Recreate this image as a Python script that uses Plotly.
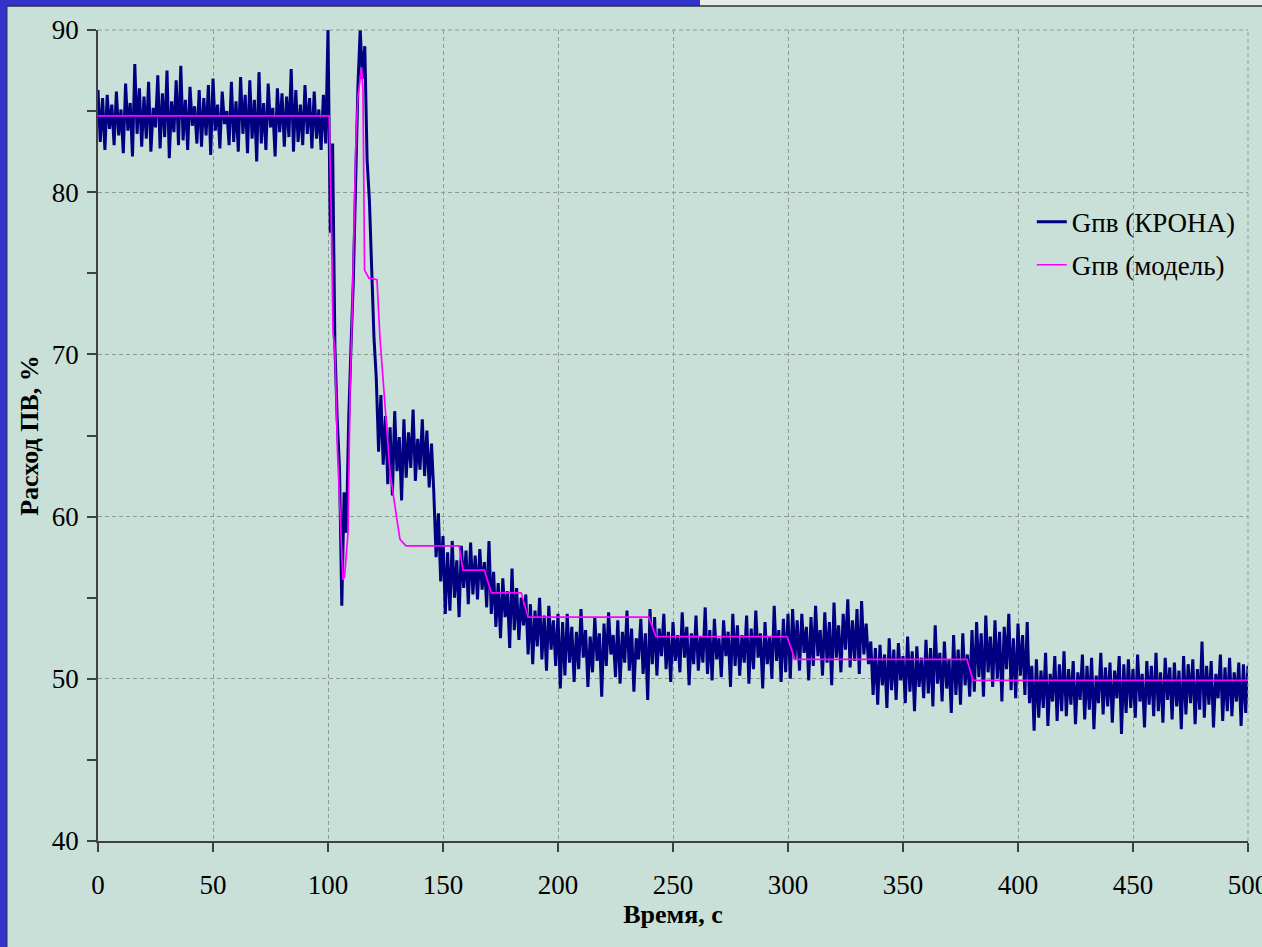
import plotly.graph_objects as go

krona_000_099 = [
    86.3, 83.1, 85.8, 82.6, 86.0, 83.9, 85.4, 82.9, 86.2, 83.5,
    85.1, 82.4, 86.7, 83.8, 85.5, 82.2, 87.9, 83.6, 86.4, 82.8,
    85.9, 83.3, 86.8, 82.5, 85.2, 84.0, 87.2, 82.7, 86.1, 83.4,
    87.5, 82.1, 85.6, 83.7, 86.9, 82.9, 87.8, 83.2, 85.7, 82.6,
    86.5, 84.1, 85.3, 83.0, 86.3, 82.8, 85.8, 83.5, 86.6, 82.3,
    87.0, 83.8, 85.4, 82.7, 86.2, 84.2, 85.0, 82.9, 86.8, 83.1,
    85.6, 82.5, 87.1, 83.6, 86.0, 82.4, 86.9, 83.3, 85.7, 81.9,
    87.4, 83.0, 85.5, 82.6, 86.7, 84.0, 85.2, 82.2, 86.4, 83.7,
    86.1, 82.8, 85.9, 83.4, 87.6, 82.5, 86.3, 83.1, 85.4, 82.9,
    86.6, 83.6, 85.8, 82.7, 86.2, 83.3, 85.1, 82.6, 86.0, 83.0,
]
krona_100_124 = [
    90.0, 77.5, 83.0, 70.5, 66.0, 63.0, 54.5, 61.5, 59.0, 66.0,
    70.5, 74.5, 80.5, 86.5, 90.0, 87.0, 89.0, 82.0, 79.5, 75.5,
    71.0, 68.5, 64.0, 67.5, 63.2,
]
krona_125_150 = [
    66.2, 62.0, 65.5, 61.3, 66.5, 62.8, 64.9, 61.0, 66.0, 62.4,
    65.2, 63.0, 66.6, 62.2, 64.8, 62.9, 66.0, 62.5, 65.3, 61.8,
    64.5, 61.5, 57.5, 60.2, 56.0, 58.8,
]
krona_151_200 = [
    54.0, 57.8, 54.2, 58.5, 55.0, 57.3, 53.8, 58.2, 55.6, 57.9,
    54.6, 58.4, 55.2, 57.6, 54.9, 58.0, 55.5, 57.2, 54.4, 58.5,
    54.0, 56.6, 53.2, 55.9, 52.5, 56.2, 53.8, 55.4, 51.9, 56.8,
    53.0, 55.6, 52.4, 55.0, 53.3, 55.2, 51.5, 54.6, 50.9, 54.2,
    52.0, 55.0, 51.2, 53.9, 50.5, 54.5, 51.8, 53.6, 50.8, 54.0,
]
krona_201_240 = [
    49.4, 53.5, 50.2, 54.0, 51.0, 53.2, 49.8, 52.9, 50.6, 54.3,
    51.3, 53.0, 49.5, 52.6, 50.4, 53.8, 51.1, 52.8, 48.9, 53.4,
    50.8, 54.1, 51.5, 52.7, 50.1, 53.6, 49.7, 52.9, 51.0, 54.2,
    50.5, 53.1, 49.2, 52.5, 51.2, 53.7, 50.3, 52.8, 48.7, 54.3,
]
krona_241_300 = [
    50.9, 53.8, 50.2, 53.1, 51.4, 54.0, 50.6, 52.9, 49.8, 53.5,
    51.1, 52.7, 50.4, 54.1, 51.3, 53.2, 49.6, 52.8, 50.9, 53.9,
    50.5, 52.6, 51.0, 54.4, 50.3, 53.0, 49.9, 53.7, 51.2, 52.5,
    50.1, 53.6, 51.4, 52.9, 49.5, 54.0, 50.8, 53.3, 50.2, 52.7,
    51.0, 53.9, 49.7, 53.1, 50.6, 54.2, 51.3, 52.8, 49.4, 53.5,
    50.9, 52.6, 50.0, 54.5, 51.1, 53.0, 49.8, 53.7, 50.4, 54.0,
]
krona_301_335 = [
    50.0, 54.3, 51.2, 53.6, 50.5, 54.0, 51.6, 53.2, 49.9, 53.8,
    50.8, 54.5, 51.4, 53.0, 50.2, 54.1, 51.0, 53.5, 49.6, 54.7,
    51.3, 53.3, 50.4, 54.0, 51.8, 54.9, 50.7, 53.6, 51.1, 54.3,
    50.3, 54.8, 51.5, 53.4, 50.9,
]
krona_336_380 = [
    52.3, 49.0, 51.9, 48.4, 52.1, 49.6, 51.5, 48.2, 52.5, 49.3,
    51.8, 48.7, 52.2, 49.9, 51.4, 48.5, 52.6, 49.2, 51.7, 48.0,
    52.0, 49.5, 51.3, 48.8, 52.4, 49.1, 51.9, 48.3, 53.3, 49.7,
    51.6, 48.6, 52.3, 49.4, 51.2, 47.9, 52.7, 49.0, 51.8, 48.4,
    52.8, 49.6, 51.5, 48.9, 53.0,
]
krona_381_405 = [
    49.2, 53.5, 50.1, 52.8, 48.9, 53.9, 50.4, 52.6, 49.5, 53.6,
    50.0, 52.9, 48.6, 53.2, 50.6, 54.0, 49.3, 52.5, 48.8, 53.4,
    50.2, 52.7, 49.0, 53.5, 48.5,
]
krona_406_500 = [
    50.8, 46.8, 51.2, 47.6, 50.5, 48.2, 51.6, 47.1, 50.3, 48.6,
    51.4, 47.4, 50.9, 48.0, 51.7, 47.7, 50.6, 48.4, 51.1, 47.2,
    50.4, 48.7, 51.5, 47.5, 50.8, 48.1, 51.3, 46.9, 50.2, 48.5,
    51.6, 47.8, 50.7, 48.3, 51.0, 47.3, 50.5, 48.8, 51.4, 46.6,
    50.9, 47.9, 51.2, 48.2, 50.6, 47.6, 51.5, 48.6, 50.3, 47.0,
    51.1, 48.4, 50.8, 47.7, 51.6, 48.0, 50.4, 47.3, 51.3, 48.7,
    50.7, 47.5, 51.0, 48.3, 50.5, 46.9, 51.4, 47.8, 50.9, 48.5,
    51.2, 47.2, 50.6, 48.1, 52.3, 47.6, 50.8, 48.4, 51.1, 47.0,
    50.3, 48.8, 51.5, 47.4, 50.7, 48.0, 51.3, 47.7, 50.4, 48.6,
    51.0, 47.1, 50.9, 47.9, 50.8,
]
g_krona = (krona_000_099 + krona_100_124 + krona_125_150 + krona_151_200
           + krona_201_240 + krona_241_300 + krona_301_335 + krona_336_380
           + krona_381_405 + krona_406_500)
t_krona = list(range(len(g_krona)))

# ---- Gпв (модель): model, breakpoints ----
t_model = [0, 100.5, 101.3, 102.2, 103.0, 104.1, 106.5, 107.2, 108.7, 109.6,
           110.4, 111.3, 112.2, 113.0, 114.6, 115.2, 115.9, 117.8, 121.3, 122.6,
           123.9, 127.0, 130.0, 131.3, 133.9, 157.0, 158.7, 168.0, 171.0, 184.0,
           187.0, 239.5, 242.6, 299.6, 303.0, 377.8, 380.4, 500]
g_model = [84.7, 84.7, 79.5, 71.3, 70.3, 64.1, 56.1, 56.3, 59.0, 67.8,
           72.0, 77.5, 83.6, 85.9, 87.7, 86.3, 75.2, 74.7, 74.6, 71.0,
           68.6, 62.7, 59.8, 58.6, 58.2, 58.2, 56.7, 56.7, 55.3, 55.3,
           53.8, 53.8, 52.6, 52.6, 51.2, 51.2, 49.9, 49.9]

x_ticks = [0, 50, 100, 150, 200, 250, 300, 350, 400, 450, 500]
y_ticks = [40, 50, 60, 70, 80, 90]

BG = "#c8e0d8"
FONT = "Times New Roman, Liberation Serif, serif"
GRID = "#8f9a96"

fig = go.Figure()
fig.add_trace(go.Scatter(x=t_krona, y=g_krona, mode="lines", name="Gпв (КРОНА)",
                         line=dict(color="#000080", width=3.0), legend="legend"))
fig.add_trace(go.Scatter(x=t_model, y=g_model, mode="lines", name="Gпв (модель)",
                         line=dict(color="#ff00ff", width=1.7), legend="legend2"))

axis_common = dict(
    showline=True, linecolor="#404040", linewidth=1.5,
    ticks="outside", ticklen=9, tickcolor="#404040", tickwidth=1.5,
    showgrid=True, gridcolor=GRID, gridwidth=1, griddash="4px,3px",
    zeroline=False, ticklabeloverflow="allow", automargin=False,
    tickfont=dict(family=FONT, size=27, color="black"),
)

fig.update_xaxes(range=[0, 500], tickvals=x_ticks, ticklabelstandoff=10,
                 title=dict(text="<b>Время, с</b>", font=dict(family=FONT, size=26, color="black"),
                            standoff=4),
                 **axis_common)
fig.update_yaxes(range=[40, 90], tickvals=y_ticks, ticklabelstandoff=3,
                 minor=dict(dtick=5, tick0=40, ticks="outside", ticklen=9, tickcolor="#404040",
                            tickwidth=1.5, showgrid=False),
                 title=dict(text="<b>Расход ПВ, %</b>", font=dict(family=FONT, size=26, color="black"),
                            standoff=6),
                 **axis_common)

legend_common = dict(bgcolor="rgba(0,0,0,0)", borderwidth=0,
                     font=dict(family=FONT, size=27, color="black"),
                     xanchor="left", yanchor="middle", x=0.812)
fig.update_layout(
    width=1262, height=947,
    margin=dict(l=98, r=14, t=30, b=106),
    paper_bgcolor=BG, plot_bgcolor=BG,
    showlegend=True,
    legend=dict(y=0.763, **legend_common),
    legend2=dict(y=0.710, **legend_common),
    shapes=[
        # dashed frame lines at y=90 and x=500 (grid at plot edges)
        dict(type="line", xref="paper", yref="paper", x0=0, x1=1, y0=1, y1=1,
             line=dict(color=GRID, width=1, dash="4px,3px")),
        dict(type="line", xref="paper", yref="paper", x0=1, x1=1, y0=0, y1=1,
             line=dict(color=GRID, width=1, dash="4px,3px")),
        # slide background pieces
        dict(type="rect", xref="paper", yref="paper", x0=-98/1150, x1=-91/1150,
             y0=-106/811, y1=(811+30)/811, fillcolor="#3333cc", line_width=0, layer="above"),
        dict(type="rect", xref="paper", yref="paper", x0=-98/1150, x1=(700-98)/1150,
             y0=(811+24)/811, y1=(811+30)/811, fillcolor="#3333cc", line_width=0, layer="above"),
        dict(type="rect", xref="paper", yref="paper", x0=(700-98)/1150, x1=(1262-98)/1150,
             y0=(811+24)/811, y1=(811+30)/811, fillcolor="#e6ece8", line_width=0, layer="above"),
        dict(type="line", xref="paper", yref="paper", x0=-91/1150, x1=(1262-98)/1150,
             y0=(811+24)/811, y1=(811+24)/811, line=dict(color="#303040", width=1.5), layer="above"),
        dict(type="line", xref="paper", yref="paper", x0=-91/1150, x1=-91/1150,
             y0=-106/811, y1=(811+24)/811, line=dict(color="#303040", width=1), layer="above"),
    ],
)

fig.write_html("out.html", config={"displayModeBar": False},
               post_script="document.body.style.margin='0';document.body.style.overflow='hidden';")
